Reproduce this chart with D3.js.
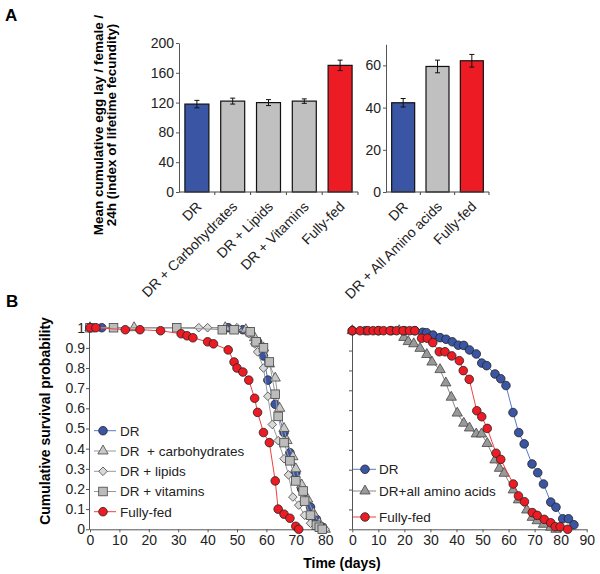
<!DOCTYPE html>
<html>
<head>
<meta charset="utf-8">
<script src="https://cdn.jsdelivr.net/npm/d3@7"></script>
<style>
  body { margin: 0; background: #fff; }
  svg { font-family: "Liberation Sans", Arial, sans-serif; }
  .axis path, .axis line { stroke: #555; }
  .axis text { fill: #222; font-size: 14px; }
</style>
</head>
<body>
<div class="canvas"></div>
<script>
// ---- panel A data ----
const feedCats = ["DR", "DR + Carbohydrates", "DR + Lipids", "DR + Vitamins", "Fully-fed"];
const feedEggs = [118, 122, 120, 122, 170];
const feedErr = [5, 4, 4, 3, 7];
const aaCats = ["DR", "DR + All Amino acids", "Fully-fed"];
const aaEggs = [42.3, 59.5, 62.2];
const aaErr = [2, 3, 3];
const eggTicksLeft = [0, 40, 80, 120, 160, 200];
const eggTicksRight = [0, 20, 40, 60];

// ---- panel B data: [day, survival] ----
const survDR = [[0,1],[4,1],[47,1],[52,0.99],[54,0.98],[57,0.93],[59,0.86],[60.5,0.74],[63,0.62],[66,0.48],[68,0.38],[70,0.28],[72,0.2],[75,0.11],[77,0.05],[79,0.01]];
const survCarb = [[0,1],[15,1],[46,1],[53,0.99],[56,0.95],[59,0.9],[61,0.82],[63,0.75],[64.5,0.6],[66,0.5],[67,0.44],[69,0.36],[70,0.3],[72,0.22],[74,0.15],[76,0.08],[78,0.03],[80,0]];
const survLipid = [[0,1],[37,1],[40,1],[50,1],[54,0.97],[56,0.92],[57,0.88],[59,0.8],[60.5,0.66],[62,0.52],[64,0.44],[66,0.35],[67.5,0.27],[69,0.16],[71,0.12],[73,0.07],[75,0.03],[78,0.01],[80,0]];
const survVit = [[0,1],[8,1],[29.5,1],[45,0.99],[49,0.99],[54.5,0.98],[56.5,0.93],[59,0.9],[61,0.83],[63,0.67],[64,0.56],[66,0.43],[68,0.34],[70,0.24],[72.5,0.19],[73,0.14],[75,0.07],[77,0.02],[78,0.01],[79,0]];
const survFed = [[0,1],[2,1],[12,0.99],[17,0.99],[24,0.985],[31,0.97],[33,0.96],[35,0.95],[40,0.93],[42,0.92],[47,0.89],[49,0.83],[50,0.8],[52,0.78],[54,0.74],[56,0.65],[57,0.58],[59,0.48],[61,0.43],[63,0.24],[64,0.1],[66,0.075],[68,0.055],[70,0.015],[71,0]];

const survDR2 = [[0,1],[5,1],[10,1],[15,1],[20,1],[24,1],[27,0.992],[28.5,0.99],[31,0.978],[33.7,0.965],[36,0.957],[38.4,0.944],[40.7,0.927],[42.8,0.926],[45,0.903],[47.6,0.883],[49.7,0.837],[51.6,0.824],[54.8,0.782],[57,0.758],[59,0.724],[61.7,0.588],[63.9,0.487],[66,0.43],[69,0.329],[71.2,0.285],[73.4,0.228],[76.2,0.137],[78.2,0.111],[80.8,0.053],[83,0.053],[85.1,0.023]];
const survAA2 = [[0,1],[18,1],[19.8,0.966],[21.5,0.945],[23.6,0.934],[26,0.911],[28.6,0.88],[30.6,0.842],[33.7,0.804],[35.9,0.737],[38,0.665],[40.3,0.585],[42.8,0.534],[45,0.51],[47.6,0.48],[49.6,0.48],[51.8,0.432],[54.8,0.349],[56.5,0.307],[58.3,0.282],[61.8,0.198],[63.8,0.148],[67,0.097],[69.1,0.06],[71,0.043],[73.4,0.025],[76.2,0.01],[78.2,0]];
const survFed2 = [[0,1],[3,1],[6,1],[8,1],[10,1],[12,1],[14.5,1],[17,1],[19.5,1],[22,1],[24,1],[26.6,0.962],[28.8,0.962],[30.9,0.94],[33.4,0.894],[35.6,0.894],[38.2,0.873],[41.1,0.849],[42.6,0.799],[44.9,0.755],[47.8,0.597],[49.7,0.567],[51.8,0.508],[55.2,0.383],[57,0.352],[61.8,0.228],[63.8,0.168],[66.1,0.139],[69.1,0.084],[71,0.07],[73.7,0.05],[76.2,0.033],[77.9,0.013],[79.8,0.013],[82.7,0]];
const survTicks = [0, 0.1, 0.2, 0.3, 0.4, 0.5, 0.6, 0.7, 0.8, 0.9, 1];

const colors = { dr: "#3a55a4", gray: "#c0c0c0", fed: "#ed1c24" };
const barColor = (c) => c === "DR" ? colors.dr : c === "Fully-fed" ? colors.fed : colors.gray;

const width = 600, height = 574;
const svg = d3.select(".canvas").append("svg").attr("width", width).attr("height", height);

svg.append("text").text("A").attr("x", 5).attr("y", 21).style("font-size", "17px").style("font-weight", "bold");
svg.append("text").text("B").attr("x", 6).attr("y", 307).style("font-size", "17px").style("font-weight", "bold");

// ---------- bar charts ----------
function drawBars(cats, vals, errs, xRange, yMax, yTop, ticks) {
  const x = d3.scaleBand().domain(cats).range(xRange).paddingInner(0.33).paddingOuter(0.165);
  const y = d3.scaleLinear().domain([0, yMax]).range([192, yTop]);
  const g = svg.append("g");

  g.append("g").attr("class", "axis")
    .attr("transform", `translate(${xRange[0]},0)`)
    .call(d3.axisLeft(y).tickValues(ticks).tickSize(3).tickSizeOuter(0).tickPadding(2))
    .call((a) => a.select(".domain").attr("stroke", "#888"))
    .call((a) => a.selectAll(".tick line").attr("stroke", "#888"));

  g.selectAll("rect.bar").data(cats).enter().append("rect")
    .attr("class", "bar")
    .attr("x", (c) => x(c))
    .attr("y", (c, i) => y(vals[i]))
    .attr("width", x.bandwidth())
    .attr("height", (c, i) => y(0) - y(vals[i]))
    .attr("fill", barColor)
    .attr("stroke", "#111").attr("stroke-width", 1.2);

  const err = g.selectAll("g.err").data(cats).enter().append("g")
    .attr("transform", (c) => `translate(${x(c) + x.bandwidth() / 2},0)`);
  err.append("line").attr("y1", (c, i) => y(vals[i] - errs[i])).attr("y2", (c, i) => y(vals[i] + errs[i]))
    .attr("stroke", "#111");
  [1, -1].forEach((s) => {
    err.append("line").attr("x1", -2.5).attr("x2", 2.5)
      .attr("y1", (c, i) => y(vals[i] + s * errs[i])).attr("y2", (c, i) => y(vals[i] + s * errs[i]))
      .attr("stroke", "#111");
  });

  // x axis with ticks between bands
  g.append("line").attr("x1", xRange[0]).attr("x2", xRange[1]).attr("y1", y(0)).attr("y2", y(0))
    .attr("stroke", "#444");
  const bounds = cats.map((c) => x(c) + x.bandwidth() + x.step() * 0.165);
  g.selectAll("line.sep").data(bounds).enter().append("line")
    .attr("x1", (d) => d).attr("x2", (d) => d).attr("y1", y(0)).attr("y2", y(0) + 3)
    .attr("stroke", "#444");

  g.selectAll("text.cat").data(cats).enter().append("text")
    .attr("transform", (c) => `translate(${x(c) + x.bandwidth() / 2 + 2},${y(0) + 12}) rotate(-45)`)
    .attr("text-anchor", "end")
    .attr("dy", "0.35em")
    .style("font-size", "14px").style("fill", "#222")
    .text((c) => c);
}

drawBars(feedCats, feedEggs, feedErr, [179, 358], 200, 43, eggTicksLeft);
drawBars(aaCats, aaEggs, aaErr, [386, 489], 70, 192 - 70 * 2.11, eggTicksRight);

const yLab = svg.append("text")
  .attr("transform", "translate(103,125) rotate(-90)")
  .attr("text-anchor", "middle")
  .style("font-size", "13.5px").style("font-weight", "bold");
yLab.append("tspan").attr("x", 0).attr("y", 0).text("Mean cumulative egg lay / female /");
yLab.append("tspan").attr("x", 0).attr("y", 12.5).text("24h (index of lifetime fecundity)");

// ---------- survival curves ----------
function marker(sel, shape, fill) {
  if (shape === "circle") {
    sel.append("circle").attr("r", 4.3).attr("fill", fill).attr("stroke", "#222").attr("stroke-width", 0.8);
  } else if (shape === "square") {
    sel.append("rect").attr("x", -4.3).attr("y", -4.3).attr("width", 8.6).attr("height", 8.6)
      .attr("fill", fill).attr("stroke", "#444").attr("stroke-width", 0.8);
  } else if (shape === "triangle") {
    sel.append("path").attr("d", d3.symbol(d3.symbolTriangle, 46)).attr("fill", fill)
      .attr("stroke", "#444").attr("stroke-width", 0.8);
  } else if (shape === "diamond") {
    sel.append("path").attr("d", "M0,-4.3L4.3,0L0,4.3L-4.3,0Z").attr("fill", fill)
      .attr("stroke", "#444").attr("stroke-width", 0.8);
  }
}

function drawSeries(g, data, x, y, lineColor, shape, fill) {
  g.append("path").datum(data)
    .attr("d", d3.line().x((d) => x(d[0])).y((d) => y(d[1])))
    .attr("fill", "none").attr("stroke", lineColor).attr("stroke-width", 1);
  const pts = g.selectAll(null).data(data).enter().append("g")
    .attr("transform", (d) => `translate(${x(d[0])},${y(d[1])})`);
  marker(pts, shape, fill);
}

function drawLegend(g, items, x0, lineX0, lineX1, textX) {
  items.forEach((it) => {
    g.append("line").attr("x1", lineX0).attr("x2", lineX1).attr("y1", it.y).attr("y2", it.y)
      .attr("stroke", it.line).attr("stroke-width", 1);
    const m = g.append("g").attr("transform", `translate(${x0},${it.y})`);
    marker(m, it.shape, it.fill);
    g.append("text").attr("x", textX).attr("y", it.y).attr("dy", "0.36em")
      .style("font-size", "13.5px").style("fill", "#222").style("white-space", "pre").text(it.label);
  });
}

// left survival panel
const sxL = d3.scaleLinear().domain([0, 80]).range([90, 325.2]);
const syL = d3.scaleLinear().domain([0, 1]).range([529.3, 327.7]);
const gL = svg.append("g");
gL.append("g").attr("class", "axis").attr("transform", "translate(89,0)")
  .call(d3.axisLeft(syL).tickValues(survTicks).tickFormat(d3.format("~g")).tickSize(3).tickSizeOuter(0).tickPadding(1))
  .call((a) => a.select(".domain").attr("stroke", "#777"));
gL.append("g").attr("class", "axis").attr("transform", "translate(0,529.3)")
  .call(d3.axisBottom(sxL).ticks(8).tickSize(3).tickSizeOuter(0).tickPadding(3));

drawSeries(gL, survDR, sxL, syL, "#5a78c8", "circle", colors.dr);
drawSeries(gL, survCarb, sxL, syL, "#999", "triangle", "#c8c8c8");
drawSeries(gL, survLipid, sxL, syL, "#999", "diamond", "#d8d8d8");
drawSeries(gL, survVit, sxL, syL, "#999", "square", "#bcbcbc");
drawSeries(gL, survFed, sxL, syL, "#f04040", "circle", colors.fed);

drawLegend(gL, [
  { label: "DR", y: 430.7, shape: "circle", fill: colors.dr, line: "#5a78c8" },
  { label: "DR  + carbohydrates", y: 451, shape: "triangle", fill: "#c8c8c8", line: "#999" },
  { label: "DR + lipids", y: 471.3, shape: "diamond", fill: "#d8d8d8", line: "#999" },
  { label: "DR + vitamins", y: 491.5, shape: "square", fill: "#bcbcbc", line: "#999" },
  { label: "Fully-fed", y: 511.7, shape: "circle", fill: colors.fed, line: "#f04040" }
], 103, 94, 116, 120);

svg.append("text").attr("transform", "translate(50,421) rotate(-90)").attr("text-anchor", "middle")
  .style("font-size", "14px").style("font-weight", "bold").text("Cumulative survival probability");

// right survival panel
const sxR = d3.scaleLinear().domain([0, 90]).range([352.3, 586.7]);
const syR = d3.scaleLinear().domain([0, 1]).range([529.3, 330.7]);
const gR = svg.append("g");
gR.append("g").attr("class", "axis").attr("transform", "translate(352,0)")
  .call(d3.axisLeft(syR).tickValues(survTicks).tickFormat("").tickSize(3).tickSizeOuter(0))
  .call((a) => a.select(".domain").attr("stroke", "#333"));
gR.append("g").attr("class", "axis").attr("transform", "translate(0,529.3)")
  .call(d3.axisBottom(sxR).ticks(9).tickSize(3).tickSizeOuter(0).tickPadding(3));

drawSeries(gR, survAA2, sxR, syR, "#888", "triangle", "#999");
drawSeries(gR, survDR2, sxR, syR, "#5a78c8", "circle", colors.dr);
drawSeries(gR, survFed2, sxR, syR, "#f04040", "circle", colors.fed);

drawLegend(gR, [
  { label: "DR", y: 469.3, shape: "circle", fill: colors.dr, line: "#5a78c8" },
  { label: "DR+all amino acids", y: 491, shape: "triangle", fill: "#999", line: "#888" },
  { label: "Fully-fed", y: 517, shape: "circle", fill: colors.fed, line: "#f04040" }
], 365, 353, 376, 379);

svg.append("text").attr("x", 342).attr("y", 568).attr("text-anchor", "middle")
  .style("font-size", "14px").style("font-weight", "bold").text("Time (days)");
</script>
</body>
</html>
